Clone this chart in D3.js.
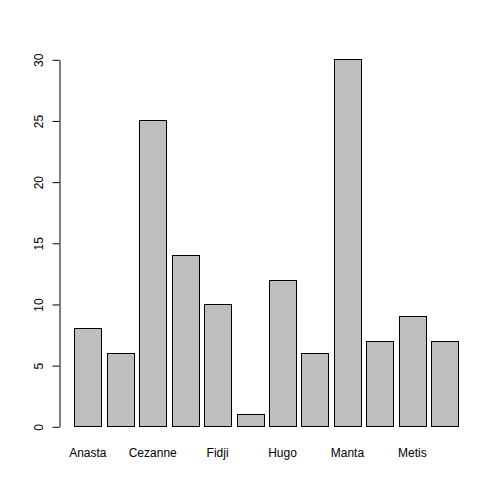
<!DOCTYPE html>
<meta charset="utf-8">
<style>
body { margin: 0; background: #fff; }
text { font-family: "Liberation Sans", Arial, sans-serif; font-size: 12px; fill: #000; }
.bar { fill: #bebebe; stroke: #000; stroke-width: 1px; }
</style>
<body>
<script src="https://d3js.org/d3.v7.min.js"></script>
<script>

// bar values, left to right
var values = [8, 6, 25, 14, 10, 1, 12, 6, 30, 7, 9, 7];
// category labels that are visible under the bars (others are skipped in the picture)
var labels = ["Anasta", "", "Cezanne", "", "Fidji", "", "Hugo", "", "Manta", "", "Metis", ""];
var yTicks = [0, 5, 10, 15, 20, 25, 30];

var width = 504, height = 504;

var svg = d3.select("body").append("svg")
    .attr("width", width)
    .attr("height", height);

// x: one band per bar, gap is 0.2 of a bar width
var x = d3.scaleBand()
    .domain(d3.range(values.length))
    .range([74.3, 458.3])
    .paddingInner(0.2 / 1.2)
    .paddingOuter(0);

var y = d3.scaleLinear()
    .domain([0, 30])
    .range([426.3, 59.3]);

// bars
svg.selectAll("rect.bar")
    .data(values)
  .enter().append("rect")
    .attr("class", "bar")
    .attr("x", function(d, i) { return Math.round(x(i)) + 0.5; })
    .attr("y", function(d) { return Math.round(y(d)) + 0.5; })
    .attr("width", Math.round(x.bandwidth()))
    .attr("height", function(d) { return Math.round(y(0)) - Math.round(y(d)); });

// y axis
var yAxis = svg.append("g")
    .attr("transform", "translate(59.5,0.5)")
    .call(d3.axisLeft(y).tickValues(yTicks).tickSize(7).tickSizeOuter(0).tickPadding(0));

yAxis.select(".domain").attr("stroke", "#000");
yAxis.selectAll(".tick line").attr("stroke", "#000");
yAxis.selectAll(".tick text")
    .attr("x", null).attr("dy", null)
    .attr("text-anchor", "middle")
    .attr("transform", "translate(-17,0) rotate(-90)")
    .style("font-family", "Liberation Sans, Arial, sans-serif")
    .style("font-size", "12px");
yAxis.attr("font-family", null).attr("font-size", null);

// x labels
svg.selectAll("text.xlab")
    .data(labels)
  .enter().append("text")
    .attr("class", "xlab")
    .attr("x", function(d, i) { return x(i) + x.bandwidth() / 2; })
    .attr("y", 456.5)
    .attr("text-anchor", "middle")
    .text(function(d) { return d; });

</script>
</body>
